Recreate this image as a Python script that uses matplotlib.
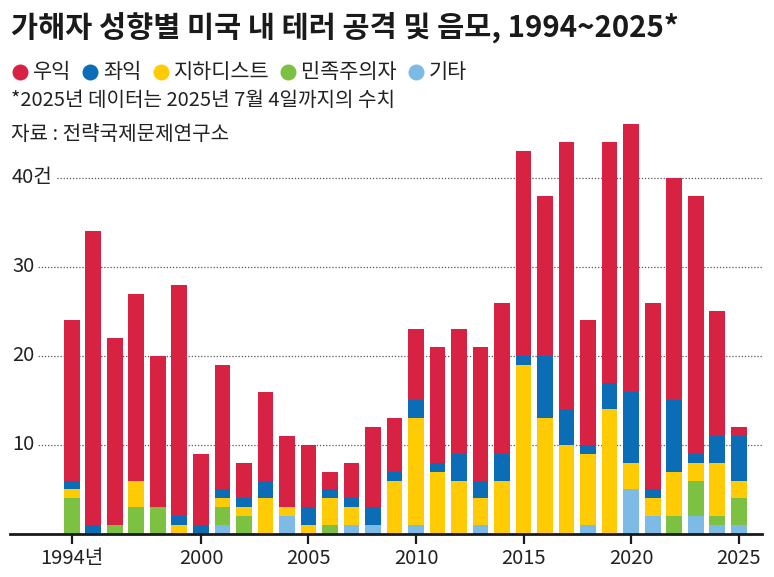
import matplotlib
matplotlib.use("Agg")
import matplotlib.pyplot as plt
from matplotlib.lines import Line2D
import matplotlib.transforms as mtransforms
import numpy as np

plt.rcParams['font.family'] = ['Noto Sans CJK KR', 'DejaVu Sans']

years = list(range(1994, 2026))
# stacked bottom -> top: 기타, 민족주의자, 지하디스트, 좌익, 우익
other =       [0,0,0,0,0,0,0,1,0,0,2,0,0,1,1,0,1,0,0,1,0,0,0,0,1,0,5,2,0,2,1,1]
nationalist = [4,0,1,3,3,0,0,2,2,0,0,0,1,0,0,0,0,0,0,0,0,0,0,0,0,0,0,0,2,4,1,3]
jihadist =    [1,0,0,3,0,1,0,1,1,4,1,1,3,2,0,6,12,7,6,3,6,19,13,10,8,14,3,2,5,2,6,2]
left =        [1,1,0,0,0,1,1,1,1,2,0,2,1,1,2,1,2,1,3,2,3,1,7,4,1,3,8,1,8,1,3,5]
right =       [18,33,21,21,17,26,8,14,4,10,8,7,2,4,9,6,8,13,14,15,17,23,18,30,14,27,30,21,25,29,14,1]

series = [right, left, jihadist, nationalist, other]
labels = ['우익', '좌익', '지하디스트', '민족주의자', '기타']
colors = ['#D82243', '#0B6DB5', '#FFCB05', '#7CC142', '#7DBBE6']

y_ticks = [10, 20, 30, 40]
y_tick_labels = ['10', '20', '30', '40건']
x_ticks = [1994, 2000, 2005, 2010, 2015, 2020, 2025]
x_tick_labels = ['1994년', '2000', '2005', '2010', '2015', '2020', '2025']

title = '가해자 성향별 미국 내 테러 공격 및 음모, 1994~2025*'
note = '*2025년 데이터는 2025년 7월 4일까지의 수치'
source = '자료 : 전략국제문제연구소'

W, H = 774, 577
fig = plt.figure(figsize=(W/100, H/100), dpi=100)
fig.patch.set_facecolor('white')

def fx(px):
    return px / W
def fy(py):
    return 1 - py / H

# axes: left 10px, right 762px, bottom 534px, top 120px
ax = fig.add_axes([fx(10), fy(534), fx(762) - fx(10), (534 - 120) / H])
ax.set_xlim(1991.12, 2026.09)
ax.set_ylim(0, 46.5)

x = np.array(years)
bottoms = np.zeros(len(years))
order = [4, 3, 2, 1, 0]  # draw 기타 first (bottom)
for i in order:
    vals = np.array(series[i], dtype=float)
    ax.bar(x, vals, bottom=bottoms, width=0.74, color=colors[i], linewidth=0, zorder=3)
    bottoms += vals

# gridlines
for yt in y_ticks:
    ax.axhline(yt, color='#555555', linestyle=(0, (1, 1.5)), linewidth=0.9, zorder=1)

ax.set_yticks([])
blend = mtransforms.blended_transform_factory(fig.transFigure, ax.transData)
for yt, lab in zip(y_ticks, y_tick_labels):
    ax.text(fx(12), yt, lab, transform=blend,
            ha='left', va='center', fontsize=14.5, color='#222222', zorder=5,
            bbox=dict(facecolor='white', edgecolor='none', pad=2.5))

for s in ['top', 'right', 'left']:
    ax.spines[s].set_visible(False)
ax.spines['bottom'].set_linewidth(2.0)
ax.spines['bottom'].set_color('#1a1a1a')
ax.spines['bottom'].set_zorder(6)

ax.set_xticks(x_ticks)
ax.set_xticklabels(x_tick_labels, fontsize=14.5, color='#222222')
ax.tick_params(axis='x', length=7, width=1.6, color='#1a1a1a', pad=3)
ax.set_facecolor('none')

# title
fig.text(fx(11), fy(27), title, ha='left', va='center', fontsize=21.2, fontweight='bold', color='#1a1a1a')

# legend
renderer = fig.canvas.get_renderer()
cur = 20
for lab, col in zip(labels, colors):
    fig.add_artist(Line2D([fx(cur)], [fy(72)], marker='o', markersize=11.5, color=col,
                          markeredgewidth=0, linestyle='none', transform=fig.transFigure))
    t = fig.text(fx(cur + 13), fy(72), lab, ha='left', va='center', fontsize=15, color='#222222')
    bb = t.get_window_extent(renderer=renderer)
    cur = cur + 13 + bb.width + 19

fig.text(fx(11), fy(101), note, ha='left', va='center', fontsize=14.5, color='#222222')
fig.text(fx(11), fy(134), source, ha='left', va='center', fontsize=14.5, color='#222222')

fig.savefig('out.png', dpi=100, facecolor='white')
